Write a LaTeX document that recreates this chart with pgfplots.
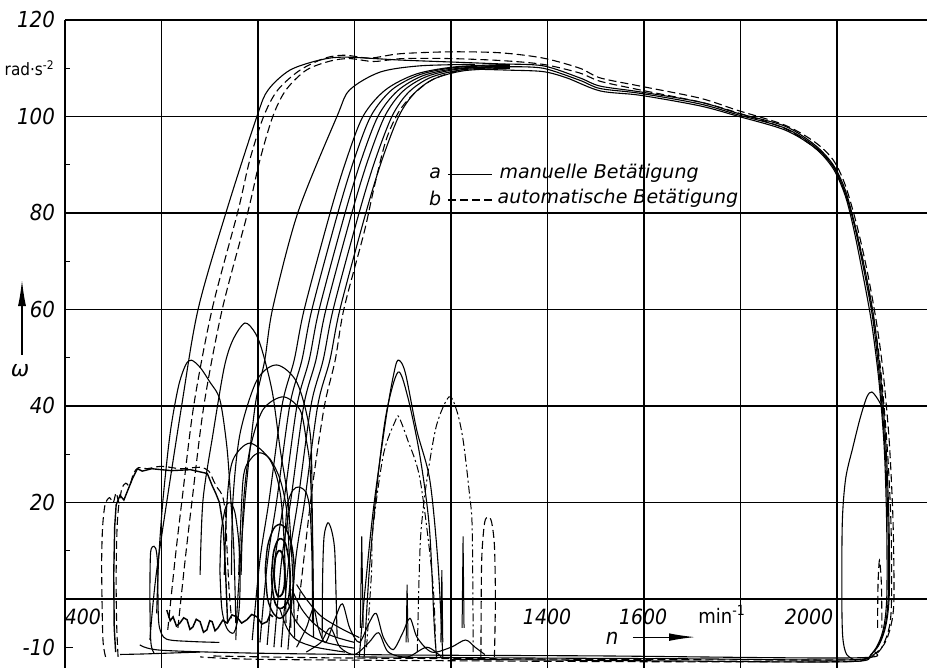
\documentclass[border=0pt]{standalone}
\usepackage{fontspec}
\setmainfont{DejaVu Sans}
\newfontfamily\cond{DejaVu Sans Condensed}
\usepackage{pgfplots}
\pgfplotsset{compat=1.18}
\usetikzlibrary{arrows.meta}
\pgfplotsset{
 man/.style={black, line width=0.55pt, smooth, tension=0.5, mark=none},
 aut/.style={black, line width=0.55pt, smooth, tension=0.5, mark=none, dash pattern=on 4pt off 2pt},
 dd/.style={black, line width=0.5pt, smooth, tension=0.5, mark=none, dash pattern=on 4pt off 1.5pt on 1pt off 1.5pt},
}
\begin{document}
\begin{tikzpicture}
\begin{axis}[
  scale only axis, width=431pt, height=324pt,
  xmin=400, xmax=2186.5, ymin=-14.3, ymax=120,
  axis x line*=bottom, axis y line*=left,
  x axis line style={draw=none},
  y axis line style={line width=0.6pt},
  xtick={600,800,...,2000}, xticklabels={}, xtick style={draw=none},
  ytick={0,20,...,120}, yticklabels={,20,40,60,80,100,120},
  minor ytick={10,30,50,70,90,110},
  extra y ticks={-10}, extra y tick labels={-10},
  extra y tick style={grid=none, major tick length=4pt},
  tick align=inside, major tick length=2.5pt, minor tick length=2.5pt,
  tick style={black, line width=0.6pt},
  grid=major, major grid style={black, line width=0.6pt},
  yticklabel style={font=\cond\itshape\fontsize{11}{11}\selectfont, xshift=-1.5pt},
  /pgf/number format/assume math mode=true,
  no markers, clip=false,
]
\coordinate (SW) at (rel axis cs:0,0);
\coordinate (NE) at (rel axis cs:1,1);
% group A dashed (automatic)
\addplot[aut] coordinates {(613,-6.4) (628,8.1) (642,20.1) (667,40.2) (705,60.1) (758,80.2) (783,91) (812,100.1) (841,105.5) (887,109.6) (939,112.1) (980,112.7) (1032,112.1) (1094,113) (1198,113.4) (1302,113.2) (1391,112.1) (1467,110) (1509,108) (1592,106.3) (1716,103.8) (1793,101.3) (1892,98.2) (1954,94.7) (1992,91) (2017,85.8) (2041,77.5) (2062,68.2) (2081,57.8) (2095,47.5) (2108,33) (2116,16.4) (2118,0.2) (2112,-5.4) (2097,-9.5) (2068,-12) (2027,-12.6) (1716,-12.6) (1302,-12.4) (950,-12.2) (700,-11.8)};
\addplot[aut] coordinates {(634,-6) (649,8.1) (663,20.1) (688,40.2) (726,60.1) (779,80.2) (804,91) (831,100.1) (858,105.5) (900,109.6) (950,111.5) (990,112) (1040,111.4) (1100,112) (1198,112) (1302,111.6) (1391,110.8) (1467,109) (1509,107.3) (1592,105.5) (1716,103) (1793,100.8) (1892,97.5) (1954,93.5) (1992,89.8) (2017,84) (2041,76) (2062,66) (2081,55) (2093,45) (2105,30) (2112,15) (2113,0) (2108,-6) (2090,-10.5) (2060,-12.5) (2000,-13) (1600,-13) (1200,-12.8) (800,-12.5) (680,-12)};
% group A solid (manual)
\addplot[man] coordinates {(576,-8.5) (591,6.6) (642,40.2) (676,60.1) (734,80.2) (798,100.1) (821,105.5) (866,109.6) (928,111.7) (980,112.3) (1094,111.7) (1198,111.3) (1302,110.9) (1391,110.5) (1467,108) (1509,106.3) (1592,105.1) (1716,103) (1793,100.7) (1892,98) (1954,94.1) (1992,90) (2017,84.8) (2037,77.5) (2060,67.2) (2077,57.8) (2091,45.4) (2102,30.9) (2108,14.3) (2108,0.2) (2099,-6.4) (2079,-10.6) (2037,-12.2) (1509,-11.8) (1094,-11.6) (783,-11.2) (597,-10.6) (555,-9.5)};
% wavy bottom
\addplot[black, line width=0.75pt, sharp plot] coordinates {(611,-2.3) (618,-4.5) (624,-3.7) (631,-5.6) (638,-5) (646,-3.9) (653,-4.3) (659,-6.3) (665,-5.8) (672,-4.2) (680,-4.7) (687,-6.9) (694,-6.4) (700,-4.5) (705,-4.7) (711,-6.6) (717,-6) (727,-4.4) (736,-5) (746,-3.3) (756,-3.7) (766,-5) (777,-4.3) (787,-3.2) (798,-3.7) (808,-5.2) (819,-4.7) (825,-3.2) (831,-3.7)};
% group B
\addplot[man] coordinates {(754,-8.5) (758,0) (773,20.5) (794,40) (814,49.5) (831,60.5) (883,80.2) (964,100.1) (990,105.5) (1053,109.2) (1136,110.5) (1250,110.8)};
\addplot[man] coordinates {(788,-8.5) (804,8.1) (823,20.5) (850,40.2) (875,49.5) (896,60.1) (950,80.2) (983,91) (1018,100.1) (1064,105.5) (1128,108.8) (1210,110.3) (1322,110.8)};
\addplot[man] coordinates {(804,-9) (820,8.1) (839,20.5) (866,40.2) (891,49.5) (912,60.1) (966,80.2) (999,91) (1034,100.1) (1077,105.5) (1136,108.7) (1214,110.2) (1322,110.6)};
\addplot[man] coordinates {(819,-9.5) (835,8.1) (854,20.5) (881,40.2) (906,49.5) (927,60.1) (981,80.2) (1014,91) (1049,100.1) (1089,105.3) (1143,108.5) (1217,110) (1322,110.4)};
\addplot[man] coordinates {(833,-10) (849,8.1) (868,20.5) (895,40.2) (920,49.5) (941,60.1) (995,80.2) (1028,91) (1063,100.1) (1100,105.2) (1150,108.3) (1221,109.9) (1322,110.3)};
\addplot[man] coordinates {(848,-10) (864,8.1) (883,20.5) (910,40.2) (935,49.5) (956,60.1) (1010,80.2) (1043,91) (1078,100.1) (1112,105) (1158,108.1) (1225,109.7) (1322,110.2)};
\addplot[man] coordinates {(862,-10.5) (878,8.1) (897,20.5) (924,40.2) (949,49.5) (970,60.1) (1024,80.2) (1057,91) (1092,100.1) (1124,104.8) (1165,107.8) (1228,109.5) (1322,110)};
\addplot[aut] coordinates {(880,-5) (897,10) (915,25) (938,40.2) (960,49.5) (978,60.1) (1020,76) (1040,85) (1065,95) (1092,101) (1124,104.8) (1165,107.8) (1228,109.8) (1300,110.5)};
% plateau continuations
\addplot[man] coordinates {(1322,110.3) (1391,110) (1467,107.5) (1509,105.8) (1592,104.8) (1716,102.6) (1793,100.4) (1892,97.6) (1954,93.8) (1992,89.6) (2017,84.2) (2037,77) (2058,67) (2075,57.5) (2089,45) (2100,30.5) (2106,14) (2106,0) (2097,-6.6) (2075,-11) (2030,-12.6) (1700,-12.4) (1300,-12.2) (1000,-12)};
\addplot[man] coordinates {(1250,109.8) (1322,109.6) (1391,109.3) (1440,108) (1509,105.3) (1592,104.4) (1716,102.2) (1793,100.1) (1892,97.2) (1954,93.5) (1992,89.2) (2017,83.6) (2035,76.5) (2055,66.5) (2072,57) (2087,45) (2098,31) (2103,15) (2103,0) (2094,-7) (2070,-11.5) (2020,-13) (1600,-12.8) (1200,-12.5)};
% right loops
\addplot[man] coordinates {(2040,-12.8) (2020,-11.5) (2012,-8) (2010,0) (2011,16) (2018,25) (2033,31.5) (2048,37.5) (2062,41.9) (2072,42.9) (2084,41.5) (2095,39.5)};
\addplot[aut] coordinates {(2084,-6) (2085,3) (2088,8) (2092,3) (2093,-6)};
% left humps
\addplot[man] coordinates {(590,-3) (594,8) (603,20.5) (618,34.4) (635,44) (650,48.5) (662,49.5) (680,48) (700,45) (721,41.3) (735,32) (742,23) (750,10) (754,-5)};
\addplot[man] coordinates {(680,5) (686,20.5) (707,34.4) (730,48) (748,53.7) (773,57.2) (795,55) (810,51) (830,42.7) (846,31) (862,20.5) (872,5) (876,-8)};
\addplot[man] coordinates {(745,5) (748,20.5) (763,34.4) (798,45.4) (839,48.5) (881,44.8) (908,34.4) (912,20.5) (914,5) (915,-8)};
\addplot[man] coordinates {(765,5) (770,20) (783,30.9) (810,39.2) (852,41.9) (887,39.2) (900,33) (908,27) (913,12) (915,-5)};
\addplot[man] coordinates {(730,5) (736,20.5) (748,28.8) (783,32.3) (825,28.8) (846,22) (855,10) (858,-5)};
\addplot[man] coordinates {(760,5) (769,24.7) (785,29) (804,30.3) (825,29) (846,24.7) (860,17.8) (866,5) (868,-6)};
\addplot[man] coordinates {(855,10) (860,19) (872,22.5) (885,23.2) (900,22) (908,18) (912,8) (913,-5)};
% inner loops
\addplot[black, line width=0.7pt, smooth, tension=0.5] coordinates {(815,6) (820,11) (832,14.5) (845,15.5) (858,14.5) (870,11) (875,6) (870,0) (858,-3) (845,-4) (832,-3) (820,0) (815,6)};
\addplot[black, line width=0.8pt, smooth, tension=0.5] coordinates {(828,5) (832,9.5) (840,12) (848,12.5) (857,11.5) (864,8) (867,4) (863,0) (855,-1.5) (845,-2) (836,-1) (830,2) (828,5)};
\addplot[black, line width=0.9pt, smooth, tension=0.5] coordinates {(833,5) (836,8.5) (843,10) (850,9.5) (855,6.5) (855,3) (850,1) (842,0.5) (836,2) (833,5)};
\addplot[man] coordinates {(721,6) (724,14) (733,19) (742,20) (752,18) (760,12) (763,4) (760,-3) (750,-7) (735,-6) (725,-2) (721,6)};
% nested arcs at the bottom
\addplot[man] coordinates {(845,-2) (860,-6) (880,-8.5) (920,-10) (980,-11)};
\addplot[man] coordinates {(860,0) (875,-4) (900,-7) (940,-9) (1000,-10.2)};
\addplot[man] coordinates {(870,2) (890,-2) (915,-5) (950,-7.5) (1000,-9)};
\addplot[man] coordinates {(880,3) (900,0) (930,-3.5) (970,-6) (1010,-8)};
% left box
\addplot[aut] coordinates {(484,-12) (479,-9) (477,-2) (476,8) (478,15) (483,19.5) (492,21) (500,20) (506,22) (512,20) (518,23) (526,24) (534,23.5) (542,26) (552,27.2) (570,27) (600,27.5) (640,27) (680,27.3) (698,26.5) (708,24.5) (716,23) (726,21.5) (732,18) (736,10) (740,2) (745,-4)};
\addplot[black, line width=0.7pt, sharp plot] coordinates {(505,-11) (502,-6) (501,5) (503,15) (506,19.5) (514,21.5) (522,20.5) (530,22.5) (540,25) (550,27) (560,26.5) (580,27) (620,26.6) (660,26.8) (695,26) (705,23.5) (712,22) (720,20) (728,15) (733,5) (737,-5)};
\addplot[aut] coordinates {(510,-12) (507,-5) (506,5) (508,15) (512,20)};
\addplot[man] coordinates {(585,-11.3) (578,-9) (576,0) (577,9) (581,10.8) (588,10.5) (592,7) (593,-2) (596,-6) (610,-8.3) (660,-8.8) (720,-9)};
\addplot[man] coordinates {(514,-11.5) (560,-11.4) (620,-11.2) (680,-11)};
% middle humps
\addplot[man] coordinates {(1010,-12) (1020,0) (1035,15) (1047,24.7) (1067,38.6) (1080,46) (1090,49.5) (1105,47) (1129,35) (1156,24.7) (1173,7.5) (1183,-12)};
\addplot[man] coordinates {(1020,-12) (1030,5) (1045,22) (1065,38) (1090,47) (1110,42) (1135,30) (1155,15) (1165,-5) (1170,-12)};
\addplot[dd] coordinates {(1025,-10) (1035,5) (1038,14.3) (1060,30) (1085,37) (1092,37.7) (1110,33) (1136,24.7) (1162,3.9) (1168,-10)};
\addplot[dd] coordinates {(1130,-11) (1134,5) (1138,14.3) (1150,24.7) (1170,36) (1196,41.9) (1212,39) (1225,33) (1238,22) (1244,14.3) (1246,-11)};
\addplot[aut] coordinates {(1262,-12) (1263,5) (1265,11) (1270,16) (1277,17) (1284,16) (1290,11) (1292,0) (1290,-12)};
\addplot[man] coordinates {(933,-8) (934,5) (937,13) (945,15.8) (953,14) (959,10) (962,0) (964,-8)};
% spikes and bottom wiggles
\addplot[black, line width=0.5pt, sharp plot] coordinates {(1012,-6) (1015,13) (1018,-6)};
\addplot[black, line width=0.5pt, sharp plot] coordinates {(1107,-9) (1109,3) (1111,-9)};
\addplot[black, line width=0.5pt, sharp plot] coordinates {(1179,-9) (1181,6) (1183,-9)};
\addplot[black, line width=0.5pt, sharp plot] coordinates {(1223,-6) (1225,13) (1227,-6)};
\addplot[man] coordinates {(880,-10) (900,-6) (915,-2) (925,-6) (940,-9) (960,-4) (975,-1) (990,-6) (1010,-9) (1030,-5) (1045,-3) (1060,-8) (1080,-10.5) (1100,-7) (1115,-4) (1130,-8) (1160,-11) (1200,-10) (1230,-8.5) (1250,-10) (1270,-11.5)};
\addplot[man] coordinates {(900,-11) (930,-9) (950,-6) (970,-10) (1000,-11.5) (1030,-9) (1050,-7) (1070,-11) (1110,-12) (1150,-10) (1180,-12)};
% legend
\draw[line width=0.6pt] (axis cs:1194,87.9) -- (axis cs:1285,87.9);
\draw[line width=0.6pt, dash pattern=on 4pt off 2pt] (axis cs:1194,82.7) -- (axis cs:1285,82.7);
\node[font=\itshape\fontsize{9.5}{10}\selectfont] at (axis cs:1167,88.3) {a};
\node[font=\itshape\fontsize{9.5}{10}\selectfont] at (axis cs:1167,83.1) {b};
\node[anchor=west, inner sep=0pt, font=\itshape\fontsize{9.5}{10}\selectfont] at (axis cs:1300,88.3) {manuelle Betätigung};
\node[anchor=west, inner sep=0pt, font=\itshape\fontsize{9.5}{10}\selectfont] at (axis cs:1296,83.1) {automatische Betätigung};
% axis texts
\node[font=\cond\itshape\fontsize{10.5}{10.5}\selectfont] at (axis cs:437,-3.7) {400};
\node[font=\cond\itshape\fontsize{10.5}{10.5}\selectfont] at (axis cs:1399,-3.7) {1400};
\node[font=\cond\itshape\fontsize{10.5}{10.5}\selectfont] at (axis cs:1598,-3.7) {1600};
\node[font=\cond\itshape\fontsize{10.5}{10.5}\selectfont] at (axis cs:1942,-3.7) {2000};
\node[font=\cond\fontsize{10}{10}\selectfont] at (axis cs:1762,-3.2) {min\textsuperscript{-1}};
\node[font=\cond\itshape\fontsize{11}{11}\selectfont] at (axis cs:1534,-8.1) {n};
\draw[line width=0.6pt, -{Latex[length=13pt,width=3.8pt]}] (axis cs:1577,-7.9) -- (axis cs:1706,-7.9);
\node[anchor=east, inner sep=0pt, font=\cond\fontsize{8.5}{8.5}\selectfont] at ([xshift=-5pt]axis cs:400,110) {rad·s\textsuperscript{-2}};
\node[font=\itshape\fontsize{11}{11}\selectfont] at ([xshift=-22.5pt]axis cs:400,47.3) {ω};
\draw[line width=0.6pt, -{Latex[length=13pt,width=4pt]}] ([xshift=-21.5pt]axis cs:400,50.6) -- ([xshift=-21.5pt]axis cs:400,66.1);
\end{axis}
\pgfresetboundingbox
\path ([xshift=-32.5pt]SW) rectangle ([yshift=10pt]NE);
\end{tikzpicture}
\end{document}
